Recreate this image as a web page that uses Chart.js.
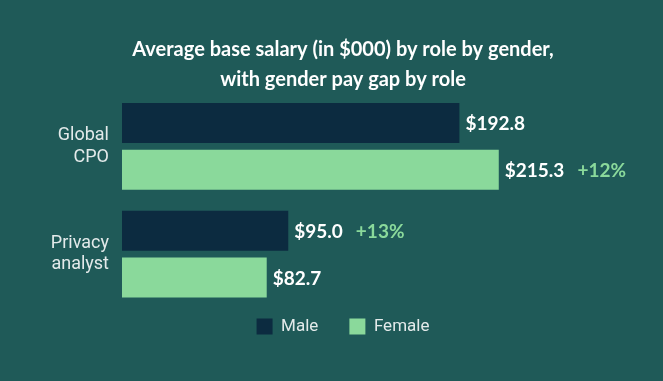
<!DOCTYPE html>
<html>
<head>
<meta charset="utf-8">
<script src="https://cdn.jsdelivr.net/npm/chart.js"></script>
<style>
  html, body { margin: 0; padding: 0; background: #1f5a58; }
  #wrap { width: 663px; height: 381px; }
</style>
</head>
<body>
<div id="wrap"><canvas id="salaryChart"></canvas></div>
<script>
// datos
const roles = [['Global', 'CPO'], ['Privacy', 'analyst']];
const maleSalary = [192.8, 95.0];
const femaleSalary = [215.3, 82.7];
const payGap = ['+12%', '+13%'];
const payGapSeries = [1, 0]; // 0 = Male, 1 = Female (la barra más alta)

const maleColor = '#0c2b40';
const femaleColor = '#8ad99b';

// Etiquetas de valor y brecha a la derecha de cada barra
const valueLabels = {
    id: 'valueLabels',
    afterDatasetsDraw(chart) {
        const ctx = chart.ctx;
        ctx.save();
        ctx.textBaseline = 'middle';
        ctx.textAlign = 'left';
        chart.data.datasets.forEach((ds, di) => {
            const meta = chart.getDatasetMeta(di);
            meta.data.forEach((bar, i) => {
                const txt = '$' + ds.data[i].toFixed(1);
                ctx.font = 'bold 19px Lato';
                ctx.fillStyle = '#ffffff';
                const x = bar.x + 6;
                ctx.fillText(txt, x, bar.y + 1);
                if (payGapSeries[i] === di) {
                    const w = ctx.measureText(txt).width;
                    ctx.fillStyle = femaleColor;
                    ctx.fillText(payGap[i], x + w + 13, bar.y + 1);
                }
            });
        });
        ctx.restore();
    }
};

const ctx = document.getElementById('salaryChart');
new Chart(ctx, {
    type: 'bar',
    data: {
        labels: roles,
        datasets: [
            { label: 'Male', data: maleSalary, backgroundColor: maleColor },
            { label: 'Female', data: femaleSalary, backgroundColor: femaleColor }
        ]
    },
    options: {
        indexAxis: 'y',
        responsive: true,
        maintainAspectRatio: false,
        animation: false,
        categoryPercentage: 0.87,
        barPercentage: 0.851,
        layout: { padding: { top: 10, left: 39, right: 16, bottom: 36 } },
        scales: {
            x: {
                display: false,
                min: 0,
                max: 300
            },
            y: {
                grid: { display: false, drawTicks: false },
                border: { display: false },
                ticks: {
                    color: '#e3eaea',
                    font: { family: 'Roboto', size: 18 },
                    padding: 13
                },
                afterFit(scale) { scale.width = 83; }
            }
        },
        plugins: {
            title: {
                display: true,
                text: ['Average base salary (in $000) by role by gender,', 'with gender pay gap by role'],
                color: '#ffffff',
                font: { family: 'Lato', size: 20, weight: 'bold', lineHeight: 1.5 },
                padding: { top: 25, bottom: -2.5 }
            },
            legend: {
                position: 'bottom',
                labels: {
                    color: '#e3eaea',
                    font: { family: 'Roboto', size: 17 },
                    boxWidth: 16,
                    boxHeight: 16,
                    padding: 10,
                    generateLabels(chart) {
                        const items = Chart.defaults.plugins.legend.labels.generateLabels(chart);
                        // espacio extra entre los dos elementos de la leyenda
                        items[0].text = items[0].text + '     ';
                        return items;
                    }
                }
            },
            tooltip: { enabled: false }
        }
    },
    plugins: [valueLabels]
});
</script>
</body>
</html>
